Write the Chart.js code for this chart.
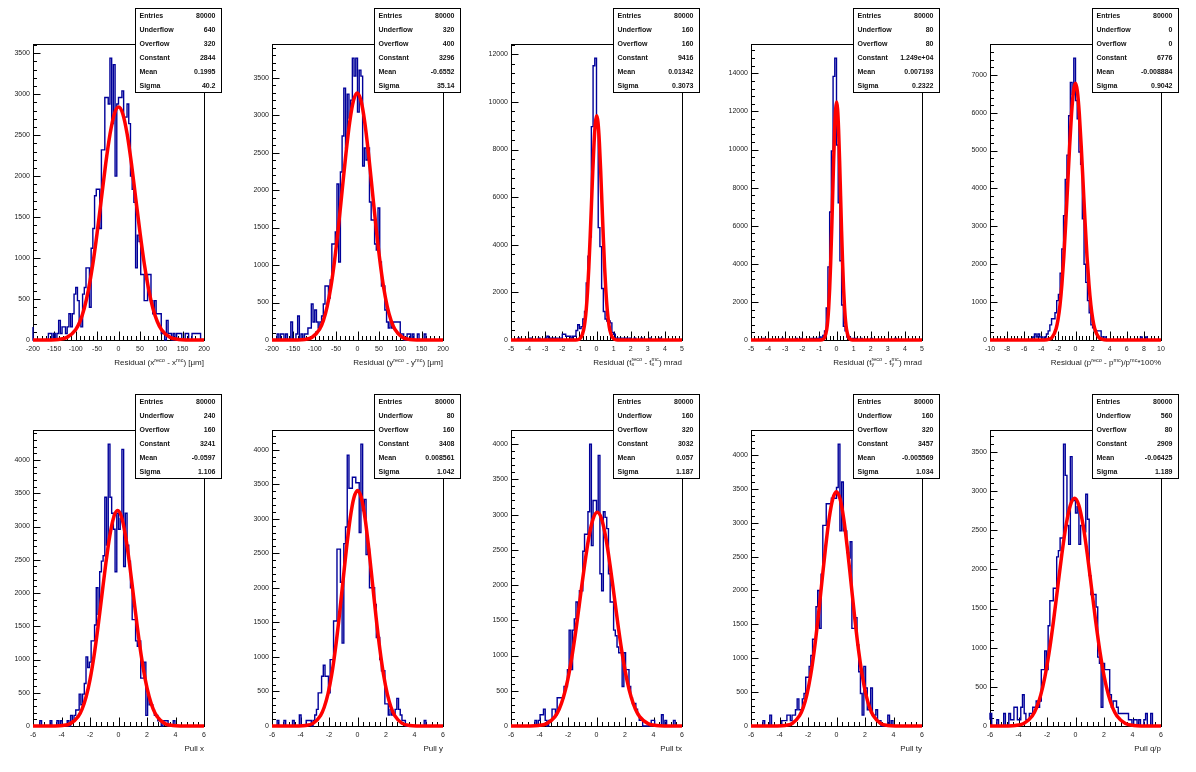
<!DOCTYPE html>
<html><head><meta charset="utf-8">
<script src="https://cdn.jsdelivr.net/npm/chart.js@4.4.0/dist/chart.umd.min.js"></script>
<style>
html,body{margin:0;padding:0;background:#fff;}
#wrap{position:relative;width:1196px;height:772px;overflow:hidden;font-family:'Liberation Sans',Arial,sans-serif;}
.pad{position:absolute;width:239px;height:386px;}
.pad canvas{position:absolute;left:0;top:0;}
.stats{position:absolute;left:134.5px;top:8px;width:87px;height:85px;box-sizing:border-box;border:1px solid #000;background:#fff;font-weight:bold;font-size:7px;color:#111;filter:grayscale(100%);}
.stats .row{position:relative;height:14px;line-height:14px;padding-left:4px;}
.stats .v{position:absolute;right:5px;top:0;}
.xt{position:absolute;left:0;width:204px;top:356.5px;text-align:right;font-size:8px;color:#222;white-space:nowrap;line-height:12px;filter:grayscale(100%);}
.xt sup{font-size:5.5px;vertical-align:3px;line-height:0;}
.xt sub{font-size:5.5px;vertical-align:-2px;line-height:0;}
.xt .ss{display:inline-block;font-size:5.5px;line-height:5px;vertical-align:-1px;text-align:left;}
.xt .ss span{display:block;}
</style></head>
<body><div id="wrap"></div>
<script>
// ---------- data ----------
const panelNames = ['resX','resY','resTx','resTy','resP','pullX','pullY','pullTx','pullTy','pullQp'];
const xRanges = [[-200,200],[-200,200],[-5,5],[-5,5],[-10,10],[-6,6],[-6,6],[-6,6],[-6,6],[-6,6]];
const xTickSteps = [50,50,1,1,2,2,2,2,2,2];
const yTickSteps = [500,500,2000,2000,1000,500,500,500,500,500];
const axisTitles = [
  'Residual (x^{reco} - x^{mc}) [\u03bcm]',
  'Residual (y^{reco} - y^{mc}) [\u03bcm]',
  'Residual (t_{x}^{reco} - t_{x}^{mc}) mrad',
  'Residual (t_{y}^{reco} - t_{y}^{mc}) mrad',
  'Residual (p^{reco} - p^{mc})/p^{mc}*100%',
  'Pull x','Pull y','Pull tx','Pull ty','Pull q/p'
];
const statLabels = ['Entries','Underflow','Overflow','Constant','Mean','Sigma'];
const statsResX   = ['80000','640','320','2844','0.1995','40.2'];
const statsResY   = ['80000','320','400','3296','-0.6552','35.14'];
const statsResTx  = ['80000','160','160','9416','0.01342','0.3073'];
const statsResTy  = ['80000','80','80','1.249e+04','0.007193','0.2322'];
const statsResP   = ['80000','0','0','6776','-0.008884','0.9042'];
const statsPullX  = ['80000','240','160','3241','-0.0597','1.106'];
const statsPullY  = ['80000','80','160','3408','0.008561','1.042'];
const statsPullTx = ['80000','160','320','3032','0.057','1.187'];
const statsPullTy = ['80000','160','320','3457','-0.005569','1.034'];
const statsPullQp = ['80000','560','80','2909','-0.06425','1.189'];

const binsResX = [160,0,0,0,0,0,0,0,0,0,
 80,80,0,80,0,80,240,80,160,160,
 80,160,320,160,320,560,640,480,240,160,
 560,640,880,880,400,1120,1360,1760,1840,1840,
 1360,2320,2320,2960,2960,2880,3440,2640,3360,2000,
 2880,2960,2960,3040,2720,2720,2880,2640,2000,1840,
 1680,880,1280,1200,800,800,480,480,800,800,
 480,320,480,320,320,320,80,80,0,240,
 80,80,0,80,0,80,80,80,0,0,
 80,80,0,0,80,80,80,80,80,0];
const binsResY = [0,0,0,0,80,0,80,80,0,80,
 0,0,240,0,0,80,320,0,80,0,
 80,80,160,160,480,240,400,240,160,240,
 320,480,720,720,560,800,1280,1280,1440,2080,
 1040,2240,2720,3360,2560,3280,2960,3200,3760,3520,
 3760,3040,3600,3520,2320,2560,2400,2560,1840,1600,
 1600,1280,1200,1760,1040,720,720,400,240,160,
 240,160,240,240,240,240,80,80,0,0,
 80,80,0,80,0,0,80,0,0,0,
 80,0,0,0,0,0,0,0,0,0];
const binsResTx = [0,0,0,0,0,80,0,0,0,0,
 0,0,80,0,0,0,0,80,0,0,
 0,80,160,0,80,0,80,80,0,80,
 80,240,240,160,160,160,80,160,160,400,
 640,480,560,880,1200,2400,3520,4320,8960,11520,
 11840,8960,4720,3920,2160,1200,880,800,800,720,
 320,240,80,80,80,80,0,80,80,0,
 80,0,0,80,0,0,0,80,0,0,
 0,0,80,0,0,0,0,0,80,0,
 0,0,0,0,0,0,0,0,0,0];
const binsResTy = [0,0,0,0,0,0,0,0,80,0,
 0,0,0,0,0,0,0,0,0,80,
 0,0,0,0,0,0,0,80,0,0,
 80,0,0,0,0,0,80,0,80,0,
 80,160,80,240,480,1680,3840,6720,9920,13840,
 14800,10240,7200,4160,1840,720,480,160,160,80,
 80,0,80,0,0,80,0,0,0,0,
 0,80,0,0,0,0,0,0,0,0,
 0,0,0,0,0,80,0,0,0,0,
 0,0,0,0,0,0,0,0,0,0];
const binsResP = [0,0,0,0,0,0,0,0,0,0,
 0,0,0,0,0,0,0,0,0,0,
 0,0,0,0,0,0,80,160,80,160,
 80,80,0,80,160,240,400,560,560,720,
 1040,1200,1760,2400,3280,4240,4880,5920,6800,6480,
 7440,6320,5840,4960,4640,3200,2000,1520,1040,720,
 400,320,240,240,240,240,80,80,80,0,
 0,0,0,0,0,0,0,0,0,0,
 0,0,0,0,0,0,0,0,0,80,
 0,0,80,0,0,0,0,0,0,0];
const binsPullX = [0,0,0,0,0,80,0,0,0,0,
 0,80,0,0,0,80,0,80,0,0,
 0,80,0,160,80,160,240,240,480,320,
 480,640,1040,880,960,1280,1280,1520,2080,1680,
 2320,2480,2560,3440,2720,4240,3440,3200,2960,2320,
 3200,2960,3120,4160,2400,3200,2720,2480,2080,1600,
 1600,1280,1200,1280,720,720,960,160,480,320,
 320,240,160,160,80,80,0,80,80,80,
 0,0,0,80,0,0,0,0,0,0,
 0,0,0,0,0,0,0,0,0,0];
const binsPullY = [0,0,0,0,80,0,0,0,80,0,
 0,0,0,80,0,0,0,160,0,0,
 0,80,80,80,0,80,160,240,480,480,
 720,880,720,720,480,960,960,1520,1520,2560,
 2560,2080,1200,2640,2880,3920,3440,3440,3600,3600,
 3520,3520,2800,4080,3120,3280,2480,2560,2000,2000,
 2000,1760,1280,1280,960,800,800,320,320,160,
 240,160,160,240,400,240,160,80,80,0,
 0,0,0,0,0,0,0,0,0,0,
 80,0,0,0,0,0,0,0,0,0];
const binsPullTx = [0,0,0,0,0,0,0,0,0,0,
 0,0,0,0,0,80,0,80,160,160,
 240,80,0,80,80,240,240,160,400,400,
 400,400,560,560,800,1360,800,1360,1520,1760,
 1680,1920,1920,2480,2720,2720,3040,4000,2560,3200,
 3200,3040,3840,2160,1920,3040,2960,2800,2160,1760,
 1760,1360,1280,1120,1040,1040,560,1040,800,800,
 560,400,320,320,240,160,80,80,0,0,
 0,0,0,80,80,0,0,0,0,160,
 0,80,0,0,0,0,80,0,0,0];
const binsPullTy = [0,0,0,0,0,0,0,0,80,0,
 0,0,160,0,0,0,0,0,0,80,
 80,80,160,160,80,160,160,240,400,240,
 240,400,480,720,720,880,1040,1280,1280,1760,
 2000,1440,2240,2960,2960,3280,3280,3280,3360,3360,
 3360,3520,4160,2880,3600,2880,2880,2560,2480,2720,
 1440,1440,1600,1200,800,480,160,880,560,240,
 240,560,160,160,240,80,80,0,0,0,
 0,160,0,80,0,0,0,0,0,0,
 0,0,0,0,0,0,0,0,0,0];
const binsPullQp = [80,160,0,0,0,80,0,0,0,160,
 0,0,160,80,80,240,240,80,80,240,
 400,160,80,80,160,160,240,240,320,240,
 320,720,720,960,720,1280,1600,1600,1760,1760,
 2160,2240,2400,2400,3600,3200,2560,2320,3440,2880,
 2880,2720,2800,2320,2560,2560,2480,2960,2640,1920,
 1680,1680,1680,1520,880,800,240,800,720,720,
 720,400,240,320,320,240,160,160,160,160,
 160,160,80,80,0,80,80,0,80,0,
 0,80,160,0,0,160,0,0,0,0];

// Gaussian fit curves, sampled points (x, y)
const fitXResX = [-200,-160.6,-140.5,-120.4,-100.3,-90.2,-80.2,-70.2,-60.1,-50.1,-40.0,-30.0,-19.9,-9.9,0.2,10.3,20.3,30.4,40.4,50.5,60.5,70.6,80.6,90.7,100.7,120.8,140.9,161.0,200];
const fitYResX = [0,1,6,32,125,226,385,615,923,1302,1725,2147,2510,2756,2844,2756,2510,2147,1725,1302,923,615,385,226,125,32,6,1,0];
const fitXResY = [-200,-141.2,-123.6,-106.1,-88.5,-79.7,-71.0,-62.1,-53.4,-44.6,-35.8,-27.0,-18.2,-9.4,-0.66,8.1,16.9,25.7,34.5,43.3,52.1,60.8,69.6,78.4,87.2,104.8,122.3,139.9,200];
const fitYResY = [0,1,7,37,145,262,446,713,1070,1509,1999,2488,2909,3194,3296,3194,2909,2488,1999,1509,1070,713,446,262,145,37,7,1,0];
const fitXResTx = [-5,-1.216,-1.062,-0.908,-0.755,-0.678,-0.601,-0.524,-0.448,-0.371,-0.294,-0.217,-0.140,-0.063,0.013,0.090,0.167,0.244,0.321,0.398,0.474,0.551,0.628,0.705,0.782,0.935,1.089,1.243,5];
const fitYResTx = [0,3,21,105,413,750,1274,2037,3057,4311,5711,7107,8310,9126,9416,9126,8310,7107,5711,4311,3057,2037,1274,750,413,105,21,3,0];
const fitXResTy = [-5,-0.922,-0.805,-0.690,-0.573,-0.515,-0.457,-0.399,-0.341,-0.283,-0.225,-0.167,-0.109,-0.051,0.007,0.065,0.123,0.181,0.239,0.297,0.356,0.414,0.472,0.530,0.588,0.704,0.820,0.936,5];
const fitYResTy = [0,4,27,139,548,994,1690,2702,4055,5718,7575,9427,11022,12105,12490,12105,11022,9427,7575,5718,4055,2702,1690,994,548,139,27,4,0];
const fitXResP = [-10,-3.626,-3.174,-2.721,-2.269,-2.043,-1.817,-1.591,-1.365,-1.139,-0.913,-0.687,-0.461,-0.235,-0.009,0.217,0.443,0.669,0.895,1.121,1.347,1.574,1.800,2.026,2.252,2.704,3.156,3.608,10];
const fitYResP = [0,2,15,75,297,539,917,1466,2200,3102,4110,5115,5980,6567,6776,6567,5980,5115,4110,3102,2200,1466,917,539,297,75,15,2,0];
const fitXPullX = [-6,-4.484,-3.931,-3.378,-2.825,-2.548,-2.272,-1.995,-1.719,-1.442,-1.166,-0.889,-0.613,-0.336,-0.060,0.217,0.493,0.770,1.046,1.323,1.599,1.876,2.152,2.429,2.705,3.258,3.811,4.364,6];
const fitYPullX = [0,1,7,36,142,258,439,701,1052,1484,1966,2446,2860,3141,3241,3141,2860,2446,1966,1484,1052,701,439,258,142,36,7,1,0];
const fitXPullY = [-6,-4.159,-3.639,-3.117,-2.596,-2.336,-2.075,-1.815,-1.555,-1.294,-1.033,-0.773,-0.512,-0.252,0.009,0.269,0.530,0.790,1.051,1.311,1.572,1.832,2.093,2.353,2.614,3.135,3.656,4.177,6];
const fitYPullY = [0,1,7,38,150,271,461,737,1107,1560,2067,2572,3008,3303,3408,3303,3008,2572,2067,1560,1107,737,461,271,150,38,7,1,0];
const fitXPullTx = [-6,-4.691,-4.098,-3.504,-2.911,-2.614,-2.317,-2.020,-1.724,-1.427,-1.130,-0.833,-0.537,-0.240,0.057,0.354,0.651,0.947,1.244,1.541,1.838,2.134,2.431,2.728,3.025,3.618,4.212,4.805,6];
const fitYPullTx = [0,1,7,34,133,241,410,656,984,1388,1839,2289,2676,2939,3032,2939,2676,2289,1839,1388,984,656,410,241,133,34,7,1,0];
const fitXPullTy = [-6,-4.142,-3.625,-3.108,-2.591,-2.332,-2.074,-1.815,-1.557,-1.298,-1.040,-0.781,-0.523,-0.264,-0.006,0.253,0.511,0.770,1.028,1.287,1.545,1.804,2.062,2.321,2.579,3.096,3.613,4.130,6];
const fitYPullTy = [0,1,8,38,152,275,468,748,1122,1583,2097,2609,3051,3350,3457,3350,3051,2609,2097,1583,1122,748,468,275,152,38,8,1,0];
const fitXPullQp = [-6,-4.820,-4.226,-3.631,-3.037,-2.739,-2.442,-2.145,-1.848,-1.551,-1.253,-0.956,-0.659,-0.362,-0.064,0.233,0.530,0.827,1.125,1.422,1.719,2.016,2.314,2.611,2.908,3.503,4.097,4.692,6];
const fitYPullQp = [0,1,6,32,128,232,394,629,945,1332,1764,2196,2567,2819,2909,2819,2567,2196,1764,1332,945,629,394,232,128,32,6,1,0];

const allBins = [binsResX,binsResY,binsResTx,binsResTy,binsResP,binsPullX,binsPullY,binsPullTx,binsPullTy,binsPullQp];
const allFitX = [fitXResX,fitXResY,fitXResTx,fitXResTy,fitXResP,fitXPullX,fitXPullY,fitXPullTx,fitXPullTy,fitXPullQp];
const allFitY = [fitYResX,fitYResY,fitYResTx,fitYResTy,fitYResP,fitYPullX,fitYPullY,fitYPullTx,fitYPullTy,fitYPullQp];
const allStats = [statsResX,statsResY,statsResTx,statsResTy,statsResP,statsPullX,statsPullY,statsPullTx,statsPullTy,statsPullQp];

// ---------- rendering ----------
Chart.defaults.font.family = "'Liberation Sans', Arial, sans-serif";

const rootAxes = {
  id: 'rootAxes',
  beforeDatasetsDraw(chart, args, opts) {
    const ctx = chart.ctx, a = chart.chartArea, x = chart.scales.x, y = chart.scales.y;
    ctx.save();
    ctx.strokeStyle = '#000';
    ctx.lineWidth = 1;
    const L = Math.round(a.left) + 0.5, T = Math.round(a.top) + 0.5;
    const R = Math.round(a.right) + 0.5, B = Math.round(a.bottom) + 0.5;
    ctx.strokeRect(L, T, R - L, B - T);
    ctx.beginPath();
    const xm = opts.xStep / 5;
    for (let k = 0; ; k++) {
      const v = x.min + k * xm;
      if (v > x.max + 1e-9) break;
      const px = Math.round(x.getPixelForValue(v)) + 0.5;
      const len = (k % 5 === 0) ? 9 : 4.5;
      ctx.moveTo(px, B); ctx.lineTo(px, B - len);
    }
    const ym = opts.yStep / 5;
    for (let k = 0; ; k++) {
      const v = y.min + k * ym;
      if (v > y.max + 1e-9) break;
      const py = Math.round(y.getPixelForValue(v)) + 0.5;
      const len = (k % 5 === 0) ? 7 : 3.5;
      ctx.moveTo(L, py); ctx.lineTo(L + len, py);
    }
    ctx.stroke();
    ctx.restore();
  }
};

function fmtTitle(s) {
  return s
    .replace(/_\{([^}]*)\}\^\{([^}]*)\}/g, '<span class="ss"><span>$2</span><span>$1</span></span>')
    .replace(/\^\{([^}]*)\}/g, '<sup>$1</sup>')
    .replace(/_\{([^}]*)\}/g, '<sub>$1</sub>');
}

function histPoints(counts, lo, hi) {
  const bw = (hi - lo) / counts.length;
  const pts = counts.map((c, i) => ({ x: lo + i * bw, y: c }));
  pts.push({ x: hi, y: counts[counts.length - 1] });
  return pts;
}

function majorTicks(lo, hi, step) {
  const out = [];
  const n = Math.floor((hi - lo) / step + 1e-9);
  for (let k = 0; k <= n; k++) out.push({ value: Math.round((lo + k * step) * 1e6) / 1e6 });
  return out;
}

const wrap = document.getElementById('wrap');
panelNames.forEach((name, i) => {
  const col = i % 5, row = Math.floor(i / 5);
  const pad = document.createElement('div');
  pad.className = 'pad';
  pad.style.left = Math.round(col * 239.2) + 'px';
  pad.style.top = (row * 386) + 'px';
  wrap.appendChild(pad);

  const cv = document.createElement('canvas');
  cv.width = 239; cv.height = 386;
  cv.style.width = '239px'; cv.style.height = '386px';
  pad.appendChild(cv);

  const bins = allBins[i];
  const [lo, hi] = xRanges[i];
  const ymax = Math.max(...bins) * 1.05;
  const fitPts = allFitX[i].map((xv, j) => ({ x: xv, y: allFitY[i][j] }));

  new Chart(cv, {
    type: 'line',
    data: {
      datasets: [
        { label: 'fit', data: fitPts, borderColor: '#ff0000', borderWidth: 3.5,
          pointRadius: 0, cubicInterpolationMode: 'monotone', fill: false, order: 0, clip: false },
        { label: name, data: histPoints(bins, lo, hi), borderColor: '#000099', borderWidth: 1.4,
          pointRadius: 0, stepped: 'after', fill: false, order: 1, clip: false }
      ]
    },
    options: {
      responsive: false, animation: false, events: [],
      layout: { padding: { left: 0, top: 44, right: 35, bottom: 0 } },
      plugins: { legend: { display: false }, tooltip: { enabled: false },
                 rootAxes: { xStep: xTickSteps[i], yStep: yTickSteps[i] } },
      scales: {
        x: { type: 'linear', min: lo, max: hi,
             grid: { display: false, drawTicks: false }, border: { display: false },
             afterBuildTicks(s) { s.ticks = majorTicks(lo, hi, xTickSteps[i]); },
             ticks: { autoSkip: false, maxRotation: 0,
                      padding: 5, color: '#222', font: { size: 7 },
                      callback: v => String(Math.round(v * 1000) / 1000) },
             afterFit(s) { s.height = 46; } },
        y: { type: 'linear', min: 0, max: ymax,
             grid: { display: false, drawTicks: false }, border: { display: false },
             afterBuildTicks(s) { s.ticks = majorTicks(0, ymax, yTickSteps[i]); },
             ticks: { autoSkip: false,
                      padding: 3, color: '#222', font: { size: 7 },
                      callback: v => String(Math.round(v)) },
             afterFit(s) { s.width = 33; } }
      }
    },
    plugins: [rootAxes]
  });

  const st = document.createElement('div');
  st.className = 'stats';
  st.innerHTML = statLabels.map((l, j) =>
    '<div class="row">' + l + '<span class="v">' + allStats[i][j] + '</span></div>').join('');
  pad.appendChild(st);

  const t = document.createElement('div');
  t.className = 'xt';
  t.innerHTML = fmtTitle(axisTitles[i]);
  pad.appendChild(t);
});
</script>
</body></html>
